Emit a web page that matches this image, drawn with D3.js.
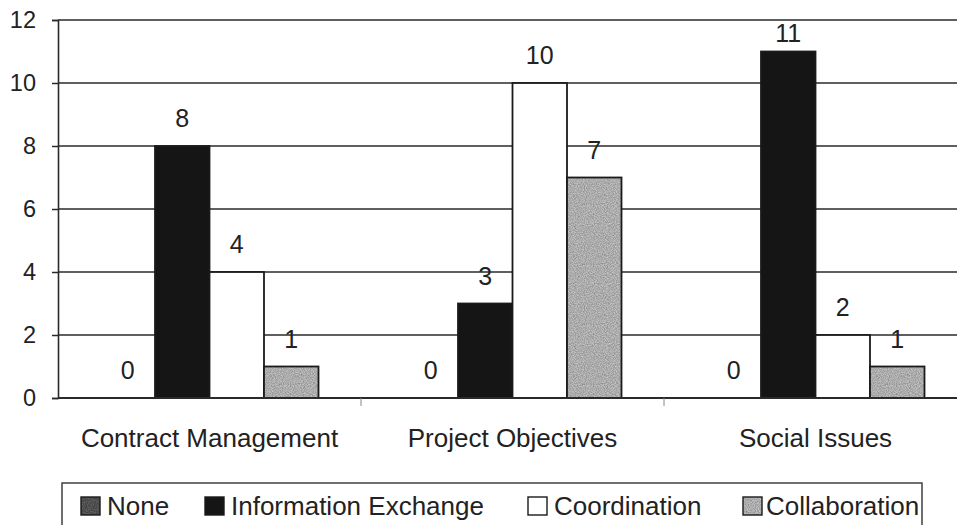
<!DOCTYPE html>
<html>
<head>
<meta charset="utf-8">
<script src="https://cdn.jsdelivr.net/npm/d3@7"></script>
<style>
  html, body { margin: 0; padding: 0; background: #fff; }
  svg { display: block; }
  text { font-family: "Liberation Sans", Arial, Helvetica, sans-serif; fill: #222; }
</style>
</head>
<body>
<svg id="chart" width="957" height="525"></svg>
<script>
// Categories along the x axis
const categories = ["Contract Management", "Project Objectives", "Social Issues"];
// Series names (legend order)
const seriesNames = ["None", "Information Exchange", "Coordination", "Collaboration"];
// Values per series, one per category
const noneValues = [0, 0, 0];
const infoValues = [8, 3, 11];
const coordValues = [4, 10, 2];
const collabValues = [1, 7, 1];
// Y axis ticks
const yTicks = [0, 2, 4, 6, 8, 10, 12];

const seriesValues = [noneValues, infoValues, coordValues, collabValues];

const svg = d3.select("#chart");
const W = 957, H = 525;
const plotLeft = 58, plotTop = 20, plotBottom = 398, plotRight = 967;

// Speckled textures for the shaded series
const defs = svg.append("defs");
function noisePattern(id, base, dark, opacity, seed) {
  const f = defs.append("filter").attr("id", id + "-f")
    .attr("x", 0).attr("y", 0).attr("width", 1).attr("height", 1);
  f.append("feTurbulence").attr("type", "fractalNoise")
    .attr("baseFrequency", 0.9).attr("numOctaves", 2).attr("seed", seed).attr("result", "n");
  f.append("feColorMatrix").attr("type", "matrix")
    .attr("values", "0 0 0 0 0  0 0 0 0 0  0 0 0 0 0  1.2 0 0 0 -0.35");
  const p = defs.append("pattern").attr("id", id)
    .attr("patternUnits", "userSpaceOnUse").attr("width", 60).attr("height", 60);
  p.append("rect").attr("width", 60).attr("height", 60).attr("fill", base);
  p.append("rect").attr("width", 60).attr("height", 60).attr("fill", dark)
    .attr("filter", `url(#${id}-f)`).attr("opacity", opacity);
  return `url(#${id})`;
}
const fills = [
  noisePattern("noneTex", "#5e5e5e", "#000", 0.6, 3),
  "#151515",
  "#ffffff",
  noisePattern("collabTex", "#c2c2c2", "#000", 0.45, 7)
];

const x0 = d3.scaleBand().domain(categories).range([plotLeft, plotRight]).paddingInner(0).paddingOuter(0);
const x1 = d3.scaleBand().domain(seriesNames).range([0, x0.bandwidth()]).paddingInner(0).paddingOuter(0.78);
const y = d3.scaleLinear().domain([0, 12]).range([plotBottom, plotTop]);

// Gridlines
svg.append("g").selectAll("line").data(yTicks.filter(t => t > 0)).join("line")
  .attr("x1", plotLeft).attr("x2", W)
  .attr("y1", d => y(d)).attr("y2", d => y(d))
  .attr("stroke", "#2a2a2a").attr("stroke-width", 1.6);

// Y axis
const yAxis = svg.append("g").attr("transform", `translate(${plotLeft},0)`)
  .call(d3.axisLeft(y).tickValues(yTicks).tickSize(6).tickPadding(16).tickFormat(d3.format("d")));
yAxis.select(".domain").attr("stroke", "#2a2a2a").attr("stroke-width", 1.6);
yAxis.selectAll(".tick line").attr("stroke", "#2a2a2a").attr("stroke-width", 1.5);
yAxis.selectAll(".tick text").attr("font-size", 23.5).attr("fill", "#222")
  .attr("font-family", '"Liberation Sans", Arial, sans-serif');

// Bars
const groups = svg.append("g").selectAll("g").data(categories).join("g")
  .attr("transform", d => `translate(${x0(d)},0)`);
groups.selectAll("rect")
  .data((c, ci) => seriesNames.map((s, si) => ({ s, si, v: seriesValues[si][ci] })))
  .join("rect")
  .filter(d => d.v > 0)
  .attr("x", d => x1(d.s)).attr("width", x1.bandwidth())
  .attr("y", d => y(d.v)).attr("height", d => y(0) - y(d.v))
  .attr("fill", d => fills[d.si])
  .attr("stroke", "#1a1a1a").attr("stroke-width", 1.8);

// Value labels
groups.selectAll("text.val")
  .data((c, ci) => seriesNames.map((s, si) => ({ s, si, v: seriesValues[si][ci] })))
  .join("text").attr("class", "val")
  .attr("x", d => x1(d.s) + x1.bandwidth() / 2)
  .attr("y", d => Math.max(y(d.v) - 19, plotTop + 22))
  .attr("text-anchor", "middle").attr("font-size", 25)
  .text(d => d.v);

// X axis baseline and category separators
svg.append("line").attr("x1", plotLeft).attr("x2", W).attr("y1", plotBottom).attr("y2", plotBottom)
  .attr("stroke", "#2a2a2a").attr("stroke-width", 1.8);
svg.append("g").selectAll("line").data(categories.slice(1)).join("line")
  .attr("x1", d => x0(d)).attr("x2", d => x0(d))
  .attr("y1", plotBottom).attr("y2", plotBottom + 8)
  .attr("stroke", "#888").attr("stroke-width", 1);

// Category labels
svg.append("g").selectAll("text").data(categories).join("text")
  .attr("x", d => x0(d) + x0.bandwidth() / 2)
  .attr("y", 447)
  .attr("text-anchor", "middle").attr("font-size", 26)
  .text(d => d);

// Legend
const legend = svg.append("g");
legend.append("rect").attr("x", 62).attr("y", 483).attr("width", 860).attr("height", 60)
  .attr("fill", "none").attr("stroke", "#333").attr("stroke-width", 1.4);
const legendX = [81, 205, 528, 743];
const li = legend.selectAll("g").data(seriesNames).join("g")
  .attr("transform", (d, i) => `translate(${legendX[i]},497)`);
li.append("rect").attr("width", 19).attr("height", 18)
  .attr("fill", (d, i) => fills[i]).attr("stroke", "#1a1a1a").attr("stroke-width", 1.4);
li.append("text").attr("x", d => d === "Collaboration" ? 23 : 26).attr("y", 18)
  .attr("font-size", 26).text(d => d);
</script>
</body>
</html>
